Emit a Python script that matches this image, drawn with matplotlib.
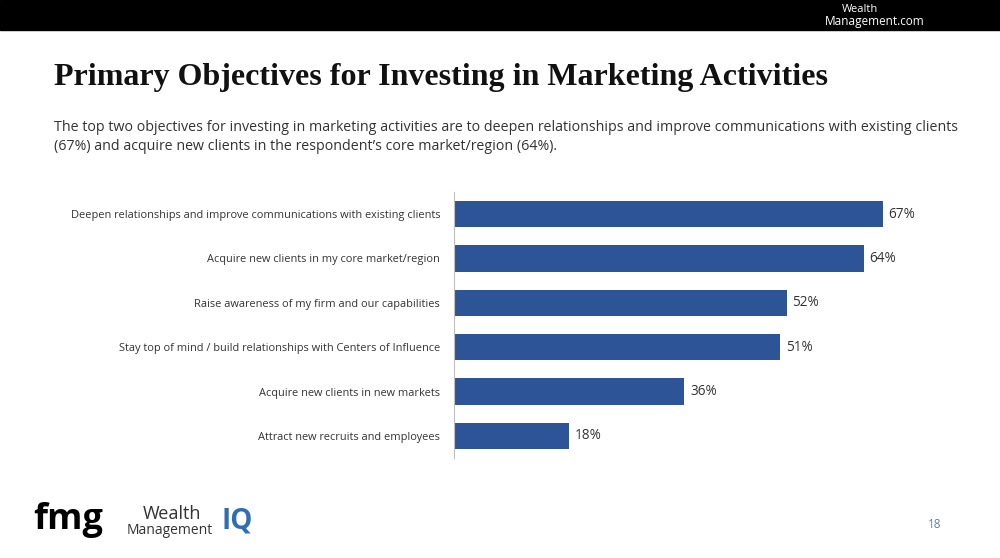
import matplotlib
matplotlib.use("Agg")
import matplotlib.pyplot as plt
from matplotlib.patches import Rectangle

categories = [
    "Deepen relationships and improve communications with existing clients",
    "Acquire new clients in my core market/region",
    "Raise awareness of my firm and our capabilities",
    "Stay top of mind / build relationships with Centers of Influence",
    "Acquire new clients in new markets",
    "Attract new recruits and employees",
]
values = [67, 64, 52, 51, 36, 18]
value_labels = ["67%", "64%", "52%", "51%", "36%", "18%"]

fig = plt.figure(figsize=(10, 5.58), dpi=100)
fig.patch.set_facecolor("white")

fig.patches.append(Rectangle((0, 1 - 30/558), 1, 30/558, transform=fig.transFigure,
                             color="black", zorder=0))
fig.text(0.842, 1 - 10/558, "Wealth", color="white", fontsize=8, ha="left", va="center", family="Open Sans")
fig.text(0.825, 1 - 21/558, "Management.com", color="white", fontsize=8.5, ha="left", va="center", family="Open Sans")

fig.text(0.054, 1 - 78/558, "Primary Objectives for Investing in Marketing Activities",
         fontsize=23, weight="bold", family="Liberation Serif", color="#111111", va="center")
fig.text(0.054, 1 - 128/558,
         "The top two objectives for investing in marketing activities are to deepen relationships and improve communications with existing clients",
         fontsize=10.3, family="Open Sans", color="#333333", va="center")
fig.text(0.054, 1 - 146/558,
         "(67%) and acquire new clients in the respondent\u2019s core market/region (64%).",
         fontsize=10.3, family="Open Sans", color="#333333", va="center")

ax = fig.add_axes([0.454, 0.179, 0.446, 0.477])
y = list(range(len(categories)))
ax.barh(y, values, height=0.59, color="#2D5497")
ax.set_ylim(len(categories) - 0.5, -0.5)
ax.set_xlim(0, 69.7)
ax.set_yticks(y)
ax.set_yticklabels(categories, fontsize=7.9, family="Open Sans", color="#333333")
ax.tick_params(axis="y", length=0, pad=10)
ax.set_xticks([])
for s in ["top", "right", "bottom"]:
    ax.spines[s].set_visible(False)
ax.spines["left"].set_color("#BFBFBF")
for yi, v, lab in zip(y, values, value_labels):
    ax.text(v + 0.9, yi, lab, va="center", ha="left", fontsize=9.8, family="Open Sans", color="#333333")

fig.text(0.033, 1 - 520/558, "fmg", fontsize=26, weight="bold", family="Open Sans", color="black", va="center")
fig.text(0.143, 1 - 514/558, "Wealth", fontsize=13, family="Open Sans", color="#333333", va="center")
fig.text(0.127, 1 - 531/558, "Management", fontsize=10, family="Open Sans", color="#333333", va="center")
fig.text(0.222, 1 - 521/558, "IQ", fontsize=20, weight="bold", family="Open Sans", color="#2F6DB5", va="center")
fig.text(0.928, 1 - 525/558, "18", fontsize=8.5, family="Open Sans", color="#5A7FB0", va="center")

fig.savefig("out.png", dpi=100)
